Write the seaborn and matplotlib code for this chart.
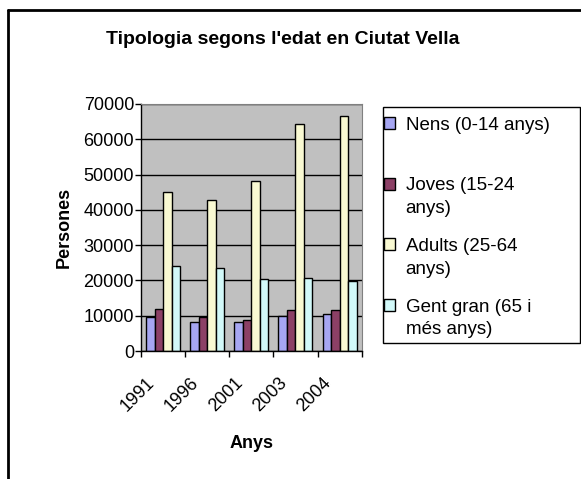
import matplotlib
matplotlib.use("Agg")
import matplotlib.pyplot as plt
import matplotlib.transforms as mtransforms
from matplotlib.lines import Line2D
from matplotlib.patches import Rectangle
import numpy as np
import pandas as pd
import seaborn as sns

# Dades (llegides del gràfic)
anys = ["1991", "1996", "2001", "2003", "2004"]
grups = ["Nens (0-14 anys)", "Joves (15-24 anys)", "Adults (25-64 anys)", "Gent gran (65 i més anys)"]
nens = [9500, 8300, 8300, 10000, 10500]
joves = [12000, 9500, 8900, 11600, 11600]
adults = [45000, 42800, 48100, 64300, 66500]
gent_gran = [24100, 23500, 20400, 20800, 19800]

# línies de la llegenda (com a Excel, amb salt de línia)
legend_first = ["Nens (0-14 anys)", "Joves (15-24", "Adults (25-64", "Gent gran (65 i"]
legend_second = ["", "anys)", "anys)", "més anys)"]

colors = ["#9999FF", "#993366", "#FFFFCC", "#CCFFFF"]

df = pd.DataFrame({
    "Any": anys * 4,
    "Grup": np.repeat(grups, len(anys)),
    "Persones": nens + joves + adults + gent_gran,
})

sns.set_style("white")
plt.rcParams['font.family'] = ['Liberation Sans', 'DejaVu Sans']
plt.rcParams['text.color'] = 'black'
plt.rcParams['axes.labelcolor'] = 'black'
plt.rcParams['xtick.color'] = 'black'
plt.rcParams['ytick.color'] = 'black'

fig = plt.figure(figsize=(5.81, 4.79), dpi=100)
ax = fig.add_axes([0.2427, 0.2672, 0.3798, 0.5157])

sns.barplot(data=df, x="Any", y="Persones", hue="Grup", palette=colors,
            width=0.77, gap=0, edgecolor="black", linewidth=1,
            errorbar=None, ax=ax)

ax.set_facecolor("#C0C0C0")
ax.set_ylim(0, 70000)
ax.set_xlim(-0.5, len(anys) - 0.5)
ax.set_yticks(np.arange(0, 70001, 10000))
ax.yaxis.grid(True, color="black", linewidth=1)
ax.set_axisbelow(True)
for s in ["top", "right"]:
    ax.spines[s].set_color("#808080")
for s in ["left", "bottom"]:
    ax.spines[s].set_color("black")
    ax.spines[s].set_linewidth(1)

ax.tick_params(axis="y", which="major", direction="out", length=4, width=1,
               labelsize=13, pad=1, left=True)
ax.set_xticks(np.arange(-0.5, len(anys), 1.0), minor=True)
ax.tick_params(axis="x", which="minor", direction="out", length=4, width=1,
               bottom=True)
ax.tick_params(axis="x", which="major", length=0, labelsize=13, pad=17)
shift = mtransforms.ScaledTranslation(-17 / 100, 0, fig.dpi_scale_trans)
for lab in ax.get_xticklabels():
    lab.set_rotation(45)
    lab.set_ha("right")
    lab.set_rotation_mode("anchor")
    lab.set_transform(lab.get_transform() + shift)

ax.set_xlabel("Anys", fontsize=13, fontweight="bold")
ax.xaxis.set_label_coords(0.5, -0.34)
ax.set_ylabel("Persones", fontsize=13, fontweight="bold", labelpad=8)

fig.text(0.486, 1 - 40 / 479, "Tipologia segons l'edat en Ciutat Vella",
         fontsize=14, fontweight="bold", ha="center", va="center")

# llegenda
handles, _ = ax.get_legend_handles_labels()
ax.get_legend().remove()
leg = fig.legend(handles, legend_first, loc="upper left",
                 bbox_to_anchor=(384 / 581, 1 - 117 / 479),
                 fontsize=13.5, frameon=False,
                 handlelength=0.6, handleheight=0.6, handletextpad=0.55,
                 labelspacing=2.32, borderpad=0, borderaxespad=0)
fig.add_artist(Rectangle((383 / 581, 1 - 343 / 479), 197 / 581, 236 / 479,
                         transform=fig.transFigure, fill=False,
                         edgecolor="black", linewidth=1))

fig.canvas.draw()
inv = fig.transFigure.inverted()
for txt, extra in zip(leg.get_texts(), legend_second):
    if extra:
        bb = txt.get_window_extent()
        x0, y0 = inv.transform((bb.x0, bb.y0))
        fig.text(x0, y0 - 0.0125, extra, fontsize=13.5, ha="left", va="top")

# marc exterior
fig.add_artist(Line2D([8 / 581, 1], [1 - 10 / 479, 1 - 10 / 479], color="black", lw=2))
fig.add_artist(Line2D([8 / 581, 8 / 581], [0, 1 - 10 / 479], color="black", lw=2))

fig.savefig("out.png", dpi=100)
